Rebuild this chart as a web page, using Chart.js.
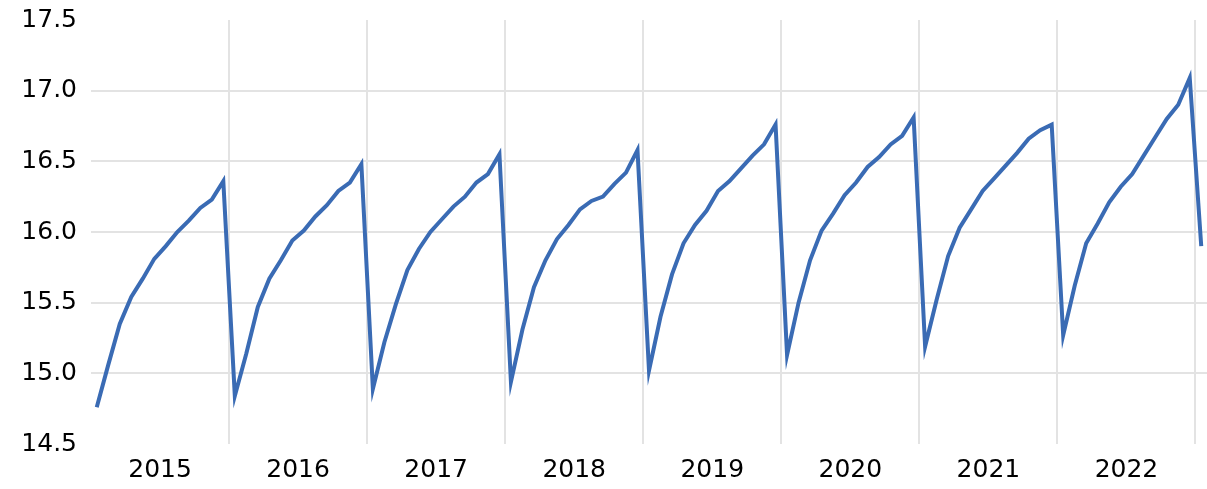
<!DOCTYPE html>
<html>
<head>
<meta charset="utf-8">
<script src="https://cdn.jsdelivr.net/npm/chart.js@4.4.1/dist/chart.umd.min.js"></script>
<style>
  html, body { margin: 0; padding: 0; background: #ffffff; }
  #wrap { width: 1207px; height: 489px; position: relative; }
</style>
</head>
<body>
<div id="wrap"><canvas id="chart" width="1207" height="489"></canvas></div>
<script>
// Year labels shown under the axis
const years = ['2015', '2016', '2017', '2018', '2019', '2020', '2021', '2022'];

// Monthly values, January to December
const v2015 = [14.76, 15.06, 15.35, 15.54, 15.67, 15.81, 15.90, 16.00, 16.08, 16.17, 16.23, 16.36];
const v2016 = [14.84, 15.14, 15.47, 15.67, 15.80, 15.94, 16.01, 16.11, 16.19, 16.29, 16.35, 16.48];
const v2017 = [14.89, 15.22, 15.49, 15.73, 15.88, 16.00, 16.09, 16.18, 16.25, 16.35, 16.41, 16.55];
const v2018 = [14.94, 15.31, 15.61, 15.80, 15.95, 16.05, 16.16, 16.22, 16.25, 16.34, 16.42, 16.58];
const v2019 = [15.02, 15.40, 15.70, 15.92, 16.05, 16.15, 16.29, 16.36, 16.45, 16.54, 16.62, 16.76];
const v2020 = [15.13, 15.50, 15.80, 16.01, 16.13, 16.26, 16.35, 16.46, 16.53, 16.62, 16.68, 16.81];
const v2021 = [15.19, 15.52, 15.83, 16.03, 16.16, 16.29, 16.38, 16.47, 16.56, 16.66, 16.72, 16.76];
const v2022 = [15.27, 15.62, 15.92, 16.06, 16.21, 16.32, 16.41, 16.54, 16.67, 16.80, 16.90, 17.09];
const v2023 = [15.90];

// Y-axis tick labels
const yTicks = ['14.5', '15.0', '15.5', '16.0', '16.5', '17.0', '17.5'];

const series = [].concat(v2015, v2016, v2017, v2018, v2019, v2020, v2021, v2022, v2023);
const points = series.map((v, i) => ({ x: i, y: v }));

const FONT = { family: "'DejaVu Sans', Verdana, sans-serif", size: 25 };
const GRID = '#e3e3e3';
const NONE = 'rgba(0,0,0,0)';

const isBoundary = v => Math.abs(((v + 0.5) % 12)) < 1e-6 && v > 0;
const yearIndex = v => Math.round((v - 5.5) / 12);

new Chart(document.getElementById('chart'), {
  type: 'line',
  data: {
    datasets: [{
      data: points,
      borderColor: '#3a6bb4',
      borderWidth: 4,
      pointRadius: 0,
      tension: 0,
      fill: false
    }]
  },
  options: {
    responsive: false,
    animation: false,
    devicePixelRatio: 1,
    layout: { padding: { top: 20, right: 0, bottom: 0, left: 0 } },
    plugins: { legend: { display: false }, tooltip: { enabled: false } },
    scales: {
      x: {
        type: 'linear',
        min: -0.5,
        max: series.length - 0.5,
        afterBuildTicks: scale => {
          const t = [];
          years.forEach((_, k) => {
            t.push({ value: 5.5 + 12 * k });
            t.push({ value: 11.5 + 12 * k });
          });
          scale.ticks = t;
        },
        afterFit: scale => {
          scale.height = 45;
          scale.paddingLeft = 0;
          scale.paddingRight = 0;
        },
        grid: {
          drawTicks: false,
          lineWidth: 2,
          color: ctx => (ctx.tick && isBoundary(ctx.tick.value)) ? GRID : NONE
        },
        border: { display: false },
        ticks: {
          autoSkip: false,
          maxRotation: 0,
          padding: 11,
          color: '#000000',
          font: FONT,
          callback: v => isBoundary(v) ? '' : (years[yearIndex(v)] || '')
        }
      },
      y: {
        min: 14.5,
        max: 17.5,
        afterFit: scale => {
          scale.width = 91;
          scale.paddingTop = 0;
          scale.paddingBottom = 0;
        },
        afterBuildTicks: scale => {
          scale.ticks = yTicks.map(s => ({ value: parseFloat(s) }));
        },
        grid: {
          drawTicks: false,
          lineWidth: 2,
          color: ctx => (ctx.tick && ctx.tick.value > 14.5 && ctx.tick.value < 17.5) ? GRID : NONE
        },
        border: { display: false },
        ticks: {
          padding: 14,
          color: '#000000',
          font: FONT,
          callback: v => v.toFixed(1)
        }
      }
    }
  }
});
</script>
</body>
</html>
